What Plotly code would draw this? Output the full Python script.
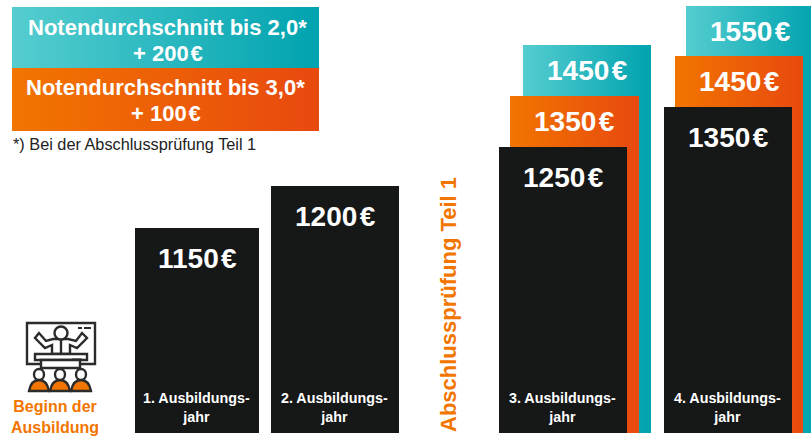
import plotly.graph_objects as go

# ---- data ----
years = ["1. Ausbildungs-<br>jahr", "2. Ausbildungs-<br>jahr", "3. Ausbildungs-<br>jahr", "4. Ausbildungs-<br>jahr"]
base_pay = [1150, 1200, 1250, 1350]
pay_grade3 = [None, None, 1350, 1450]
pay_grade2 = [None, None, 1450, 1550]
# drawn heights (the original is not to scale)
base_height = [205, 247, 286, 326]
grade3_height = [None, None, 337, 377]
grade2_height = [None, None, 388, 427]
legend_grade2 = ["Notendurchschnitt bis 2,0*", "+ 200\u200a€"]
legend_grade3 = ["Notendurchschnitt bis 3,0*", "+ 100\u200a€"]
footnote = "*) Bei der Abschlussprüfung Teil 1"
milestone = "Beginn der<br>Ausbildung"
exam_label = "Abschlussprüfung Teil 1"

# ---- style / layout ----
W, H = 811, 436
BOTTOM = 433
FONT = "Liberation Sans, Arial, sans-serif"
BLACK = "#161717"
ORANGE_TXT = "#f27500"
TEAL = [[0, "#55cdd0"], [1, "#00a3af"]]
ORANGE = [[0, "#f27500"], [1, "#e8490f"]]
base_x = [(135, 259), (271, 399), (499, 627), (664, 792)]
g3_x = [None, None, (510, 639), (675, 803)]
g2_x = [None, None, (523, 651), (686, 815)]


def Y(px):
    return H - px


fig = go.Figure()


def grad_rect(x0, x1, y0, y1, scale):
    fig.add_trace(go.Scatter(
        x=[x0, x1, x1, x0, x0], y=[y0, y0, y1, y1, y0], mode="none", fill="toself",
        fillgradient=dict(type="horizontal", colorscale=scale), hoverinfo="skip", showlegend=False))


def label(x, y, text, size, color="white", bold=True, angle=0):
    fig.add_annotation(x=x, y=y, text=f"<b>{text}</b>" if bold else text, showarrow=False,
                       xanchor="center", yanchor="middle", textangle=angle,
                       font=dict(family=FONT, size=size, color=color))


# legend boxes
grad_rect(12, 319, Y(68), Y(7), TEAL)
grad_rect(12, 319, Y(131), Y(68), ORANGE)
label(167, Y(27), legend_grade2[0], 22)
label(168, Y(53), legend_grade2[1], 22)
label(165, Y(87), legend_grade3[0], 22)
label(166, Y(113), legend_grade3[1], 22)
fig.add_annotation(x=12, y=Y(144), text=footnote, showarrow=False, xanchor="left", yanchor="middle", xshift=-1,
                   font=dict(family=FONT, size=16.3, color="#222222"))

# columns
for i in range(4):
    if grade2_height[i]:
        x0, x1 = g2_x[i]
        grad_rect(x0, x1, Y(BOTTOM), Y(BOTTOM) + grade2_height[i], TEAL)
    if grade3_height[i]:
        x0, x1 = g3_x[i]
        grad_rect(x0, x1, Y(BOTTOM), Y(BOTTOM) + grade3_height[i], ORANGE)
fig.add_trace(go.Bar(
    x=[(a + b) / 2 for a, b in base_x], y=base_height, base=Y(BOTTOM),
    width=[b - a for a, b in base_x], marker=dict(color=BLACK, line=dict(width=0)),
    hoverinfo="skip", showlegend=False, xaxis="x2", yaxis="y2"))

for i in range(4):
    x0, x1 = base_x[i]
    top = Y(BOTTOM) + base_height[i]
    label((x0 + x1) / 2, top - 30, f"{base_pay[i]}\u200a€", 28)
    label((x0 + x1) / 2 - 0.5, Y(407), years[i], 14.3)
    if pay_grade3[i]:
        x0, x1 = g3_x[i]
        label((x0 + x1) / 2, Y(BOTTOM) + grade3_height[i] - 25, f"{pay_grade3[i]}\u200a€", 28)
    if pay_grade2[i]:
        x0, x1 = g2_x[i]
        label((x0 + x1) / 2, Y(BOTTOM) + grade2_height[i] - 25, f"{pay_grade2[i]}\u200a€", 28)

label(448, Y(305), exam_label, 22, color=ORANGE_TXT, angle=-90)
label(54.5, Y(417), milestone, 16, color=ORANGE_TXT)

# presentation icon (coordinates in page pixels)
INK = "#2b2b2b"
LINE = dict(color=INK, width=2.4)


def pt(x, y):
    return f"{x},{Y(y)}"


def poly(points, close=True):
    return "M " + " L ".join(pt(x, y) for x, y in points) + (" Z" if close else "")


shapes = [
    dict(type="rect", x0=27, x1=95, y0=Y(364), y1=Y(323), line=LINE),
    dict(type="path", path=poly([(39, 333), (35, 338), (45, 348), (52, 345), (52, 354), (70, 354),
                                 (70, 345), (77, 348), (87, 338), (82, 333), (76, 341), (68, 339),
                                 (53, 339), (46, 341)]), line=LINE, fillcolor="white"),
    dict(type="path", path=poly([(61, 340), (61, 354)], close=False), line=LINE),
    dict(type="circle", x0=54.5, x1=67.5, y0=Y(339.5), y1=Y(326.5), line=LINE, fillcolor="white"),
    dict(type="rect", x0=35, x1=87, y0=Y(360), y1=Y(354), line=LINE, fillcolor="white"),
    dict(type="rect", x0=41, x1=80, y0=Y(368), y1=Y(360), line=LINE, fillcolor="white"),
    dict(type="rect", x0=72, x1=82, y0=Y(360), y1=Y(358.5), fillcolor=INK, line=dict(width=0)),
    dict(type="rect", x0=78, x1=82, y0=Y(329), y1=Y(327), fillcolor=INK, line=dict(width=0)),
    dict(type="rect", x0=84, x1=91, y0=Y(329), y1=Y(327), fillcolor=INK, line=dict(width=0)),
]
for cx in (39, 60, 81):
    shapes.append(dict(type="path",
                       path=f"M {pt(cx-10, 391)} Q {pt(cx-8, 380)} {pt(cx, 380)} Q {pt(cx+8, 380)} {pt(cx+10, 391)} Z",
                       fillcolor=ORANGE_TXT, line=LINE))
    shapes.append(dict(type="circle", x0=cx - 5, x1=cx + 5, y0=Y(380), y1=Y(369), fillcolor="white", line=LINE))

axis_common = dict(visible=False, fixedrange=True)
fig.update_layout(
    width=W, height=H, margin=dict(l=0, r=0, t=0, b=0), paper_bgcolor="white", plot_bgcolor="white",
    xaxis=dict(range=[0, W], **axis_common),
    yaxis=dict(range=[0, H], **axis_common),
    xaxis2=dict(range=[0, W], overlaying="x", **axis_common),
    yaxis2=dict(range=[0, H], overlaying="y", **axis_common),
    shapes=shapes, showlegend=False, barmode="overlay")
fig.write_html("out.html", config={"displayModeBar": False},
               post_script="document.body.style.margin='0';document.body.style.overflow='hidden';")
